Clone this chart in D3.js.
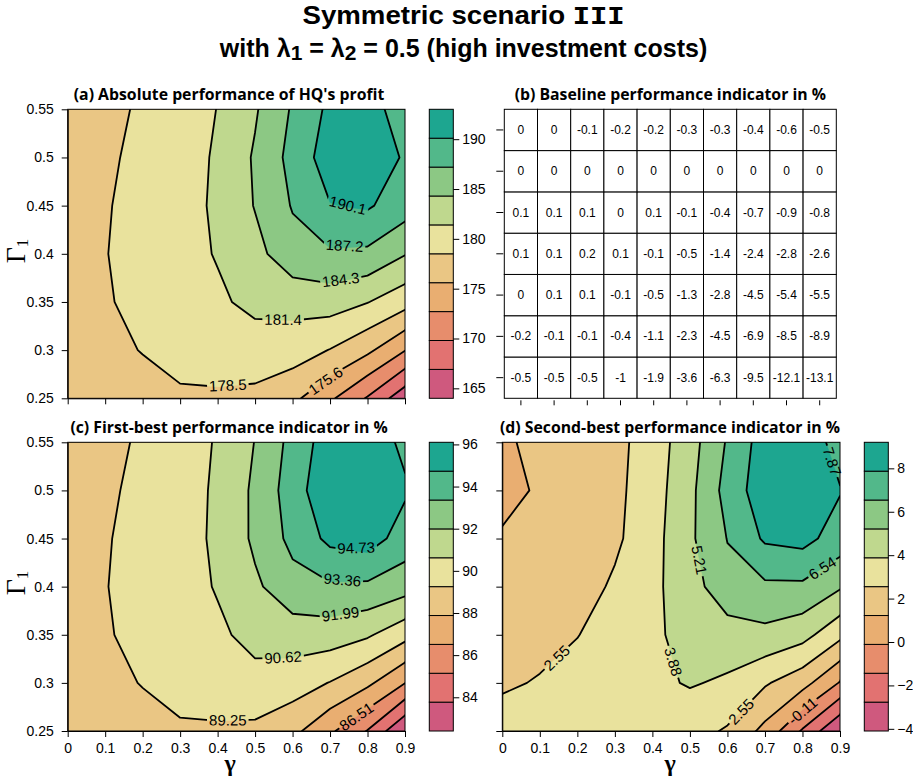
<!DOCTYPE html>
<html>
<head>
<meta charset="utf-8">
<title>Symmetric scenario III</title>
<script src="https://cdn.jsdelivr.net/npm/d3@7"></script>
<style>
  body { margin: 0; background: #fff; }
  svg text { font-family: "Liberation Sans", Arial, sans-serif; fill: #000; }
  .ptitle { font-family: "Open Sans", "Noto Sans", sans-serif; font-weight: 700; font-size: 15.8px; }
</style>
</head>
<body>
<script>
// page size
var w = 913;
var h = 779;

// model grid
var gammaVals = [0, 0.1, 0.2, 0.3, 0.4, 0.5, 0.6, 0.7, 0.8, 0.9];
var gamma1Vals = [0.25, 0.3, 0.35, 0.4, 0.45, 0.5, 0.55];
var xTickLabels = ["0", "0.1", "0.2", "0.3", "0.4", "0.5", "0.6", "0.7", "0.8", "0.9"];
var yTickLabels = ["0.25", "0.3", "0.35", "0.4", "0.45", "0.5", "0.55"];

// every matrix: one row per Γ1 (0.25 first, 0.55 last), one column per γ
var hqProfit = [
  [176.2, 176.5, 177.5, 177.8, 177.9, 177.7, 176.3, 173.2, 169.55, 165.0],
  [176.6, 177.83, 178.6, 180.1, 180.4, 180.3, 179.85, 178.4, 176.2, 172.8],
  [176.9, 178.2, 179.4, 180.4, 181.03, 182.0, 182.37, 182.7, 181.5, 179.6],
  [177.0, 178.4, 179.6, 180.6, 181.55, 183.4, 186.15, 186.84, 186.62, 184.45],
  [177.0, 178.2, 179.8, 180.8, 181.65, 184.45, 187.4, 190.0, 190.44, 188.55],
  [176.9, 178.1, 179.1, 180.0, 181.8, 184.63, 188.13, 191.6, 193.0, 189.6],
  [176.7, 177.9, 178.8, 180.03, 181.46, 184.0, 187.52, 190.75, 190.94, 189.1]
];

var baselineInd = [
  [-0.5, -0.5, -0.5, -1, -1.9, -3.6, -6.3, -9.5, -12.1, -13.1],
  [-0.2, -0.1, -0.1, -0.4, -1.1, -2.3, -4.5, -6.9, -8.5, -8.9],
  [0, 0.1, 0.1, -0.1, -0.5, -1.3, -2.8, -4.5, -5.4, -5.5],
  [0.1, 0.1, 0.2, 0.1, -0.1, -0.5, -1.4, -2.4, -2.8, -2.6],
  [0.1, 0.1, 0.1, 0, 0.1, -0.1, -0.4, -0.7, -0.9, -0.8],
  [0, 0, 0, 0, 0, 0, 0, 0, 0, 0],
  [0, 0, -0.1, -0.2, -0.2, -0.3, -0.3, -0.4, -0.6, -0.5]
];

var firstBestInd = [
  [88.21, 88.35, 88.82, 88.96, 89.01, 88.92, 88.26, 86.75, 85.08, 82.45],
  [88.35, 88.93, 89.30, 90.01, 90.15, 90.32, 89.89, 89.20, 88.16, 86.53],
  [88.49, 89.11, 89.68, 90.15, 90.45, 90.91, 91.30, 91.30, 90.80, 89.70],
  [88.54, 89.20, 89.77, 90.24, 90.69, 91.75, 92.88, 93.18, 93.10, 92.57],
  [88.54, 89.11, 89.86, 90.34, 90.74, 92.26, 93.72, 95.07, 95.40, 94.09],
  [88.49, 89.06, 89.53, 89.96, 90.85, 92.24, 94.05, 95.85, 96.10, 94.92],
  [88.40, 88.97, 89.39, 90.05, 90.72, 92.03, 93.79, 95.48, 95.62, 94.40]
];

var secondBestInd = [
  [3.39, 3.5, 3.6, 3.5, 3.2, 3.07, 2.4, 0.85, -1.59, -4.1],
  [2.3, 2.68, 3.2, 3.5, 3.61, 3.98, 3.7, 2.7, 1.72, -0.2],
  [1.8, 2.0, 2.5, 3.3, 3.66, 4.3, 4.56, 4.87, 4.35, 2.9],
  [1.6, 1.8, 1.95, 2.75, 3.59, 4.6, 6.15, 6.3, 6.3, 5.35],
  [1.4, 1.7, 2.0, 2.31, 3.39, 4.98, 6.58, 8.06, 8.3, 7.26],
  [0.7, 1.42, 2.0, 2.23, 3.27, 4.87, 7.02, 8.69, 9.2, 7.95],
  [0.6, 2.23, 2.1, 2.16, 3.18, 4.67, 6.67, 8.53, 9.0, 7.2]
];

// contour levels (colour band edges) and colour key ticks
var levelsA = [164.0, 166.9, 169.8, 172.7, 175.6, 178.5, 181.4, 184.3, 187.2, 190.1, 193.0];
var levelsC = [82.40, 83.77, 85.14, 86.51, 87.88, 89.25, 90.62, 91.99, 93.36, 94.73, 96.10];
var levelsD = [-4.10, -2.77, -1.44, -0.11, 1.22, 2.55, 3.88, 5.21, 6.54, 7.87, 9.20];
var keyTicksA = [165, 170, 175, 180, 185, 190];
var keyTicksC = [84, 86, 88, 90, 92, 94, 96];
var keyTicksD = [-4, -2, 0, 2, 4, 6, 8];

var binColors = ["#CF597E", "#E27271", "#E78D6C", "#E9AE71", "#EAC684",
                 "#E9E29D", "#BFD88E", "#8CC884", "#52B88A", "#1DA690"];

// roughly where each contour label sits: [level, gamma, Gamma1]
var labelSpotsA = [[190.1, 0.75, 0.462], [187.2, 0.735, 0.42], [184.3, 0.727, 0.375],
                   [181.4, 0.575, 0.332], [178.5, 0.427, 0.264], [175.6, 0.691, 0.267]];
var labelSpotsC = [[94.73, 0.775, 0.445], [93.36, 0.731, 0.41], [91.99, 0.727, 0.372],
                   [90.62, 0.575, 0.328], [89.25, 0.427, 0.262], [86.51, 0.767, 0.267]];
var labelSpotsD = [[7.87, 0.878, 0.53], [6.54, 0.855, 0.418], [5.21, 0.529, 0.428],
                   [3.88, 0.456, 0.322], [2.55, 0.145, 0.326], [2.55, 0.642, 0.268],
                   [-0.11, 0.798, 0.272]];

// sets the font of a d3 axis group
function styleAxis(ax, size) {
  ax.attr("font-family", "Liberation Sans, Arial, sans-serif")
    .attr("font-size", size || 14);
  ax.selectAll("line").attr("stroke", "#000");
  ax.selectAll("path").attr("stroke", "#000");
}

// colour key next to a contour panel
function drawKey(svg, levels, ticks, x0, x1, y0, y1) {
  var keyScale = d3.scaleLinear()
                   .domain([levels[0], levels[levels.length - 1]])
                   .range([y1, y0]);
  var bins = d3.range(levels.length - 1);

  svg.append("g")
     .selectAll("rect")
     .data(bins)
     .enter()
     .append("rect")
     .attr("x", x0)
     .attr("width", x1 - x0)
     .attr("y", function(i) { return keyScale(levels[i + 1]); })
     .attr("height", function(i) { return keyScale(levels[i]) - keyScale(levels[i + 1]); })
     .attr("fill", function(i) { return binColors[i]; })
     .attr("stroke", "#000")
     .attr("stroke-width", 1);

  var ax = svg.append("g")
              .attr("transform", "translate(" + x1 + ",0)")
              .call(d3.axisRight(keyScale).tickValues(ticks).tickSize(6).tickPadding(3));
  ax.select(".domain").remove();
  styleAxis(ax);
}

// y axis title: capital Gamma with subscript 1
function gammaOneLabel(svg, cx, cy) {
  var t = svg.append("text")
             .attr("transform", "translate(" + cx + "," + cy + ") rotate(-90)")
             .attr("text-anchor", "middle")
             .style("font-family", "Liberation Serif, DejaVu Serif, serif")
             .style("font-size", "28px");
  t.append("tspan").text("\u0393");
  t.append("tspan").attr("dy", 3).style("font-size", "17px").text("1");
}

// x axis title: small gamma
function gammaLabel(svg, cx, cy) {
  svg.append("text")
     .attr("x", cx)
     .attr("y", cy)
     .attr("text-anchor", "middle")
     .style("font-family", "Liberation Serif, DejaVu Serif, serif")
     .style("font-weight", "bold")
     .style("font-size", "24px")
     .text("\u03b3");
}

// filled contour panel with labelled contour lines
function contourPanel(svg, p) {
  var nx = gammaVals.length;
  var ny = gamma1Vals.length;

  var xScale = d3.scaleLinear().domain([0, 0.9]).range([p.x0, p.x1]);
  var yScale = d3.scaleLinear().domain([0.25, 0.55]).range([p.y1, p.y0]);

  // d3.contours puts sample i at grid coordinate i + 0.5
  var gridX = d3.scaleLinear().domain([0.5, nx - 0.5]).range([0, 0.9]);
  var gridY = d3.scaleLinear().domain([0.5, ny - 0.5]).range([0.25, 0.55]);

  var flat = [];
  p.values.forEach(function(row) { flat = flat.concat(row); });

  function toPx(pt) {
    return [xScale(gridX(pt[0])), yScale(gridY(pt[1]))];
  }
  function pathOf(geom) {
    var s = "";
    geom.coordinates.forEach(function(poly) {
      poly.forEach(function(ring) {
        s += "M" + ring.map(function(pt) { return toPx(pt).join(","); }).join("L") + "Z";
      });
    });
    return s;
  }

  var contours = d3.contours().size([nx, ny]);

  var clipId = "clip-" + p.id;
  var defs = svg.append("defs");
  defs.append("clipPath")
      .attr("id", clipId)
      .append("rect")
      .attr("x", p.x0).attr("y", p.y0)
      .attr("width", p.x1 - p.x0).attr("height", p.y1 - p.y0);

  var plot = svg.append("g").attr("clip-path", "url(#" + clipId + ")");

  // bands: base colour then each level on top
  plot.append("rect")
      .attr("x", p.x0).attr("y", p.y0)
      .attr("width", p.x1 - p.x0).attr("height", p.y1 - p.y0)
      .attr("fill", binColors[0]);

  var inner = p.levels.slice(1, p.levels.length - 1);
  var filled = plot.append("g");
  inner.forEach(function(level, i) {
    filled.append("path")
          .attr("d", pathOf(contours.contour(flat, level)))
          .attr("fill", binColors[i + 1])
          .attr("fill-rule", "evenodd")
          .attr("stroke", binColors[i + 1])
          .attr("stroke-width", 0.6);
  });

  // mask that cuts gaps into the lines for the labels
  var maskId = "mask-" + p.id;
  var mask = defs.append("mask")
                 .attr("id", maskId)
                 .attr("maskUnits", "userSpaceOnUse")
                 .attr("x", 0).attr("y", 0).attr("width", w).attr("height", h);
  mask.append("rect").attr("width", w).attr("height", h).attr("fill", "#fff");

  var lines = plot.append("g").attr("mask", "url(#" + maskId + ")");
  inner.forEach(function(level) {
    lines.append("path")
         .attr("d", pathOf(contours.contour(flat, level)))
         .attr("fill", "none")
         .attr("stroke", "#000")
         .attr("stroke-width", 1.8)
         .attr("stroke-linejoin", "round");
  });

  // labels along the lines
  var labelG = svg.append("g");
  p.labels.forEach(function(spot) {
    var level = spot[0];
    var target = [xScale(spot[1]), yScale(spot[2])];
    var geom = contours.contour(flat, level);

    var txt = labelG.append("text")
                    .style("font-size", "15px")
                    .attr("text-anchor", "middle")
                    .attr("dominant-baseline", "central")
                    .text(String(level));
    var tw = txt.node().getComputedTextLength();

    // nearest point on the line, rings clamped to the plot box
    var best = null;
    geom.coordinates.forEach(function(poly) {
      poly.forEach(function(ring) {
        var pts = ring.map(function(pt) {
          var q = toPx(pt);
          return [Math.max(p.x0, Math.min(p.x1, q[0])), Math.max(p.y0, Math.min(p.y1, q[1]))];
        });
        var cum = [0];
        for (var k = 1; k < pts.length; k++) {
          cum.push(cum[k - 1] + Math.hypot(pts[k][0] - pts[k - 1][0], pts[k][1] - pts[k - 1][1]));
        }
        for (var j = 0; j < pts.length - 1; j++) {
          var a = pts[j], b = pts[j + 1];
          var dx = b[0] - a[0], dy = b[1] - a[1];
          var len2 = dx * dx + dy * dy;
          var t = len2 > 0 ? ((target[0] - a[0]) * dx + (target[1] - a[1]) * dy) / len2 : 0;
          t = Math.max(0, Math.min(1, t));
          var px = a[0] + t * dx, py = a[1] + t * dy;
          var d = Math.hypot(px - target[0], py - target[1]);
          if (!best || d < best.d) {
            best = {d: d, pts: pts, cum: cum, s: cum[j] + t * Math.sqrt(len2)};
          }
        }
      });
    });
    if (!best) { txt.remove(); return; }

    // point at arc length s along the ring (wraps round)
    function pointAt(s) {
      var total = best.cum[best.cum.length - 1];
      s = ((s % total) + total) % total;
      for (var k = 1; k < best.pts.length; k++) {
        if (best.cum[k] >= s) {
          var seg = best.cum[k] - best.cum[k - 1];
          var f = seg > 0 ? (s - best.cum[k - 1]) / seg : 0;
          return [best.pts[k - 1][0] + f * (best.pts[k][0] - best.pts[k - 1][0]),
                  best.pts[k - 1][1] + f * (best.pts[k][1] - best.pts[k - 1][1])];
        }
      }
      return best.pts[best.pts.length - 1];
    }
    var p1 = pointAt(best.s - tw / 2 - 1);
    var p2 = pointAt(best.s + tw / 2 + 1);
    var cx = (p1[0] + p2[0]) / 2, cy = (p1[1] + p2[1]) / 2;
    var ang = Math.atan2(p2[1] - p1[1], p2[0] - p1[0]) * 180 / Math.PI;
    if (ang > 90) ang -= 180;
    if (ang <= -90) ang += 180;

    txt.attr("transform", "translate(" + cx + "," + cy + ") rotate(" + ang + ")");
    mask.append("rect")
        .attr("x", -tw / 2 - 2).attr("y", -7)
        .attr("width", tw + 4).attr("height", 14)
        .attr("transform", "translate(" + cx + "," + cy + ") rotate(" + ang + ")")
        .attr("fill", "#000");
  });

  // box and axes
  svg.append("rect")
     .attr("x", p.x0).attr("y", p.y0)
     .attr("width", p.x1 - p.x0).attr("height", p.y1 - p.y0)
     .attr("fill", "none").attr("stroke", "#000").attr("stroke-width", 1);

  var yAxis = d3.axisLeft(yScale).tickValues(gamma1Vals).tickSize(6).tickPadding(8).tickSizeOuter(0)
                .tickFormat(function(d, i) { return p.yLabels ? yTickLabels[i] : ""; });
  styleAxis(svg.append("g").attr("transform", "translate(" + p.x0 + ",0)").call(yAxis));

  var xAxis = d3.axisBottom(xScale).tickValues(gammaVals).tickSize(6).tickPadding(6).tickSizeOuter(0)
                .tickFormat(function(d, i) { return p.xLabels ? xTickLabels[i] : ""; });
  styleAxis(svg.append("g").attr("transform", "translate(0," + p.y1 + ")").call(xAxis));

  // panel title
  svg.append("text")
     .attr("class", "ptitle")
     .attr("x", p.titleX)
     .attr("y", p.y0 - 9)
     .attr("text-anchor", "middle")
     .text(p.title);

  drawKey(svg, p.levels, p.keyTicks, p.kx0, p.kx1, p.y0, p.y1);
}

// table panel with the baseline indicator
function tablePanel(svg, p) {
  var xBand = d3.scaleBand().domain(gammaVals).range([p.x0, p.x1]);
  var yBand = d3.scaleBand().domain(gamma1Vals).range([p.y1, p.y0]);

  var cells = [];
  baselineInd.forEach(function(row, j) {
    row.forEach(function(v, i) {
      cells.push({g: gammaVals[i], G: gamma1Vals[j], v: v});
    });
  });

  var cell = svg.append("g")
                .selectAll("g")
                .data(cells)
                .enter()
                .append("g");

  cell.append("rect")
      .attr("x", function(d) { return xBand(d.g); })
      .attr("y", function(d) { return yBand(d.G); })
      .attr("width", xBand.bandwidth())
      .attr("height", yBand.bandwidth())
      .attr("fill", "#fff")
      .attr("stroke", "#000")
      .attr("stroke-width", 1);

  cell.append("text")
      .attr("x", function(d) { return xBand(d.g) + xBand.bandwidth() / 2; })
      .attr("y", function(d) { return yBand(d.G) + yBand.bandwidth() / 2; })
      .attr("text-anchor", "middle")
      .attr("dominant-baseline", "central")
      .style("font-size", "12px")
      .text(function(d) { return String(d.v); });

  var left = svg.append("g")
                .attr("transform", "translate(" + (p.x0 - 1) + ",0)")
                .call(d3.axisLeft(yBand).tickSize(7).tickFormat(""));
  left.select(".domain").remove();
  styleAxis(left);

  var bottom = svg.append("g")
                  .attr("transform", "translate(0," + (p.y1 + 2) + ")")
                  .call(d3.axisBottom(xBand).tickSize(5).tickFormat(""));
  bottom.select(".domain").remove();
  styleAxis(bottom);

  svg.append("text")
     .attr("class", "ptitle")
     .attr("x", (p.x0 + p.x1) / 2)
     .attr("y", p.y0 - 9)
     .attr("text-anchor", "middle")
     .text("(b) Baseline performance indicator in %");
}

window.onload = function() {

  var svg = d3.select("body")
              .append("svg")
              .attr("width", w)
              .attr("height", h);

  // main titles
  var t1 = svg.append("text")
              .attr("x", 463.5)
              .attr("y", 24)
              .attr("text-anchor", "middle")
              .attr("textLength", 322)
              .attr("lengthAdjust", "spacingAndGlyphs")
              .style("font-weight", "bold")
              .style("font-size", "25px");
  t1.append("tspan").text("Symmetric scenario ");
  t1.append("tspan")
    .style("font-family", "Liberation Mono, DejaVu Sans Mono, monospace")
    .style("font-size", "26px")
    .text("III");

  var t2 = svg.append("text")
              .attr("x", 463.5)
              .attr("y", 57)
              .attr("text-anchor", "middle")
              .style("font-weight", "bold")
              .style("font-size", "25px");
  t2.append("tspan").text("with \u03bb");
  t2.append("tspan").attr("dy", 3).style("font-size", "21px").text("1");
  t2.append("tspan").attr("dy", -3).text(" = \u03bb");
  t2.append("tspan").attr("dy", 3).style("font-size", "21px").text("2");
  t2.append("tspan").attr("dy", -3).text(" = 0.5 (high investment costs)");

  contourPanel(svg, {
    id: "a", values: hqProfit, levels: levelsA, keyTicks: keyTicksA, labels: labelSpotsA,
    x0: 67.7, x1: 405, y0: 109.3, y1: 398.3, kx0: 429.3, kx1: 453.3,
    yLabels: true, xLabels: false, titleX: 229,
    title: "(a) Absolute performance of HQ's profit"
  });

  tablePanel(svg, {x0: 504.3, x1: 836.3, y0: 109.3, y1: 398.3});

  contourPanel(svg, {
    id: "c", values: firstBestInd, levels: levelsC, keyTicks: keyTicksC, labels: labelSpotsC,
    x0: 67.7, x1: 405, y0: 442.3, y1: 731, kx0: 429.3, kx1: 453.3,
    yLabels: true, xLabels: true, titleX: 229,
    title: "(c) First-best performance indicator in %"
  });

  contourPanel(svg, {
    id: "d", values: secondBestInd, levels: levelsD, keyTicks: keyTicksD, labels: labelSpotsD,
    x0: 502.3, x1: 840, y0: 442.3, y1: 731, kx0: 864.3, kx1: 888.3,
    yLabels: false, xLabels: true, titleX: 670,
    title: "(d) Second-best performance indicator in %"
  });

  gammaOneLabel(svg, 25, 251);
  gammaOneLabel(svg, 25, 583);
  gammaLabel(svg, 230, 771);
  gammaLabel(svg, 670, 771);
};
</script>
</body>
</html>
